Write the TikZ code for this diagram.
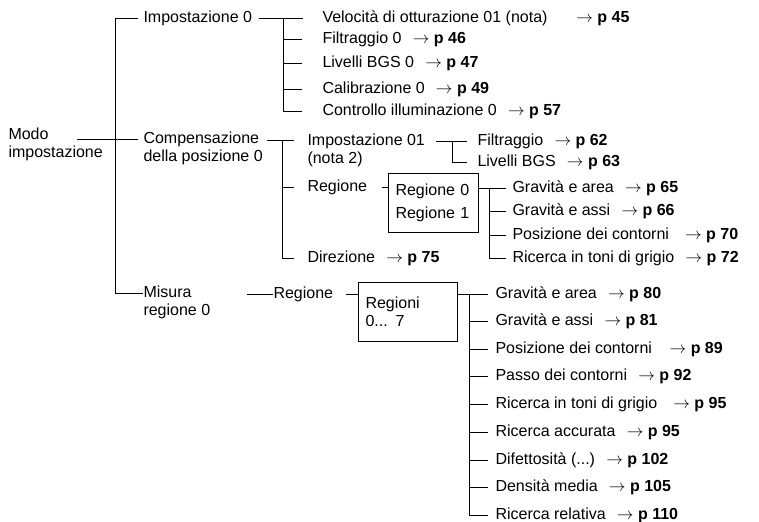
\documentclass[tikz,border=0pt]{standalone}
\usepackage{fontspec}
\setmainfont{Liberation Sans}
\usetikzlibrary{calc}
\newcommand{\pg}[2][0.7em]{\hspace{#1}$\rightarrow$ \textbf{p #2}}

\begin{document}
\begin{tikzpicture}[x=0.6pt,y=-0.6pt,line width=0.6pt,
    every node/.style={font=\fontsize{9.6}{10.8}\selectfont},
    lbl/.style={anchor=west,inner sep=0pt,align=left},
    regbox/.style={draw,anchor=north west,inner xsep=4.2pt,inner ysep=0pt,
      text width=#1,align=left,minimum height=35.2pt}]
    \useasboundingbox (0,0) rectangle (759,521);
    % first level
    \node[lbl] (modo) at (8,144) {Modo\\impostazione};
    \node[lbl] (imp) at (143,18) {Impostazione 0};
    \node[lbl] (comp) at (143,148) {Compensazione\\della posizione 0};
    \node[lbl] (mis) at (143,302) {Misura\\regione 0};
    % impostazione 0
    \node[lbl] (vel) at (322,18) {Velocità di otturazione 01 (nota)\pg[1.8em]{45}};
    \node[lbl] (fil) at (322,39) {Filtraggio 0\pg{46}};
    \node[lbl] (liv) at (322,63) {Livelli BGS 0\pg{47}};
    \node[lbl] (cal) at (322,89) {Calibrazione 0\pg{49}};
    \node[lbl] (con) at (322,111) {Controllo illuminazione 0\pg{57}};
    % compensazione
    \node[lbl] (imp1) at (307,150) {Impostazione 01\\(nota 2)};
    \node[lbl] (reg) at (307,187) {Regione};
    \node[lbl] (dir) at (307,258) {Direzione\pg{75}};
    \node[lbl] (filb) at (477,141) {Filtraggio\pg{62}};
    \node[lbl] (livb) at (477,162) {Livelli BGS\pg{63}};
    \node[regbox=45.6pt] (rbox) at (388,173) {Regione 0\\[3pt]Regione 1};
    \node[lbl] (gra1) at (512,188) {Gravità e area\pg{65}};
    \node[lbl] (ass1) at (512,211) {Gravità e assi\pg{66}};
    \node[lbl] (pos1) at (512,235) {Posizione dei contorni\pg[1em]{70}};
    \node[lbl] (ric1) at (512,258) {Ricerca in toni di grigio\pg{72}};
    % misura regione
    \node[lbl] (regm) at (273,294) {Regione};
    \node[regbox=51pt] (rbox2) at (358,282) {Regioni\\0... 7};
    \node[lbl] (gr2) at (495,294) {Gravità e area\pg{80}};
    \node[lbl] (as2) at (495,321) {Gravità e assi\pg{81}};
    \node[lbl] (po2) at (495,349) {Posizione dei contorni\pg[1.1em]{89}};
    \node[lbl] (pa2) at (495,376) {Passo dei contorni\pg{92}};
    \node[lbl] (ri2) at (495,404) {Ricerca in toni di grigio\pg[1em]{95}};
    \node[lbl] (ra2) at (495,432) {Ricerca accurata\pg{95}};
    \node[lbl] (di2) at (495,460) {Difettosità (...)\pg{102}};
    \node[lbl] (de2) at (495,487) {Densità media\pg{105}};
    \node[lbl] (rr2) at (495,515) {Ricerca relativa\pg{110}};
    % junctions
    \coordinate (a0) at (77,139);
    \coordinate (a1) at (115,293);
    \coordinate (b1) at (283,18);
    \coordinate (c0) at (267,140);
    \coordinate (c1) at (282,140);
    \coordinate (d0) at (436,141);
    \coordinate (d1) at (452,141);
    \coordinate (e1) at (489,188);
    \coordinate (f0) at (247,294);
    \coordinate (f1) at (469,294);
    % first level lines
    \draw[shorten >=3pt] (a0) -- (comp.west |- a0);
    \draw[shorten <=3pt] (imp.west) -| (a1) -- (mis.west |- a1);
    % impostazione 0 lines
    \draw[shorten <=3.6pt,shorten >=11.4pt] (imp.east) -- (vel.west);
    \draw[shorten >=12pt] (b1) |- (con.west);
    \foreach \n in {fil,liv,cal}
      \draw[shorten >=12pt] (b1 |- \n.west) -- (\n.west);
    % compensazione lines
    \draw[shorten >=8pt] (c0) -- (imp1.west |- c0);
    \draw[shorten >=8pt] (c1) |- (dir.west);
    \draw[shorten >=8pt] (c1 |- reg.west) -- (reg.west);
    \draw[shorten >=6pt] (d0) -- (filb.west);
    \draw[shorten >=6pt] (d1) |- (livb.west);
    \draw[shorten <=8.4pt] (reg.east) -- (rbox.west |- reg.east);
    \draw[shorten >=3.6pt] (rbox.east |- e1) -- (gra1.west);
    \draw[shorten >=3.6pt] (e1) |- (ric1.west);
    \foreach \n in {ass1,pos1}
      \draw[shorten >=3.6pt] (e1 |- \n.west) -- (\n.west);
    % misura lines
    \draw (f0) -- (regm.west);
    \draw[shorten <=7.2pt] (regm.east) -- (rbox2.west |- regm.east);
    \draw[shorten >=4.2pt] (rbox2.east |- f1) -- (gr2.west);
    \draw[shorten >=4.2pt] (f1) |- (rr2.west);
    \foreach \n in {as2,po2,pa2,ri2,ra2,di2,de2}
      \draw[shorten >=4.2pt] (f1 |- \n.west) -- (\n.west);
\end{tikzpicture}
\end{document}
